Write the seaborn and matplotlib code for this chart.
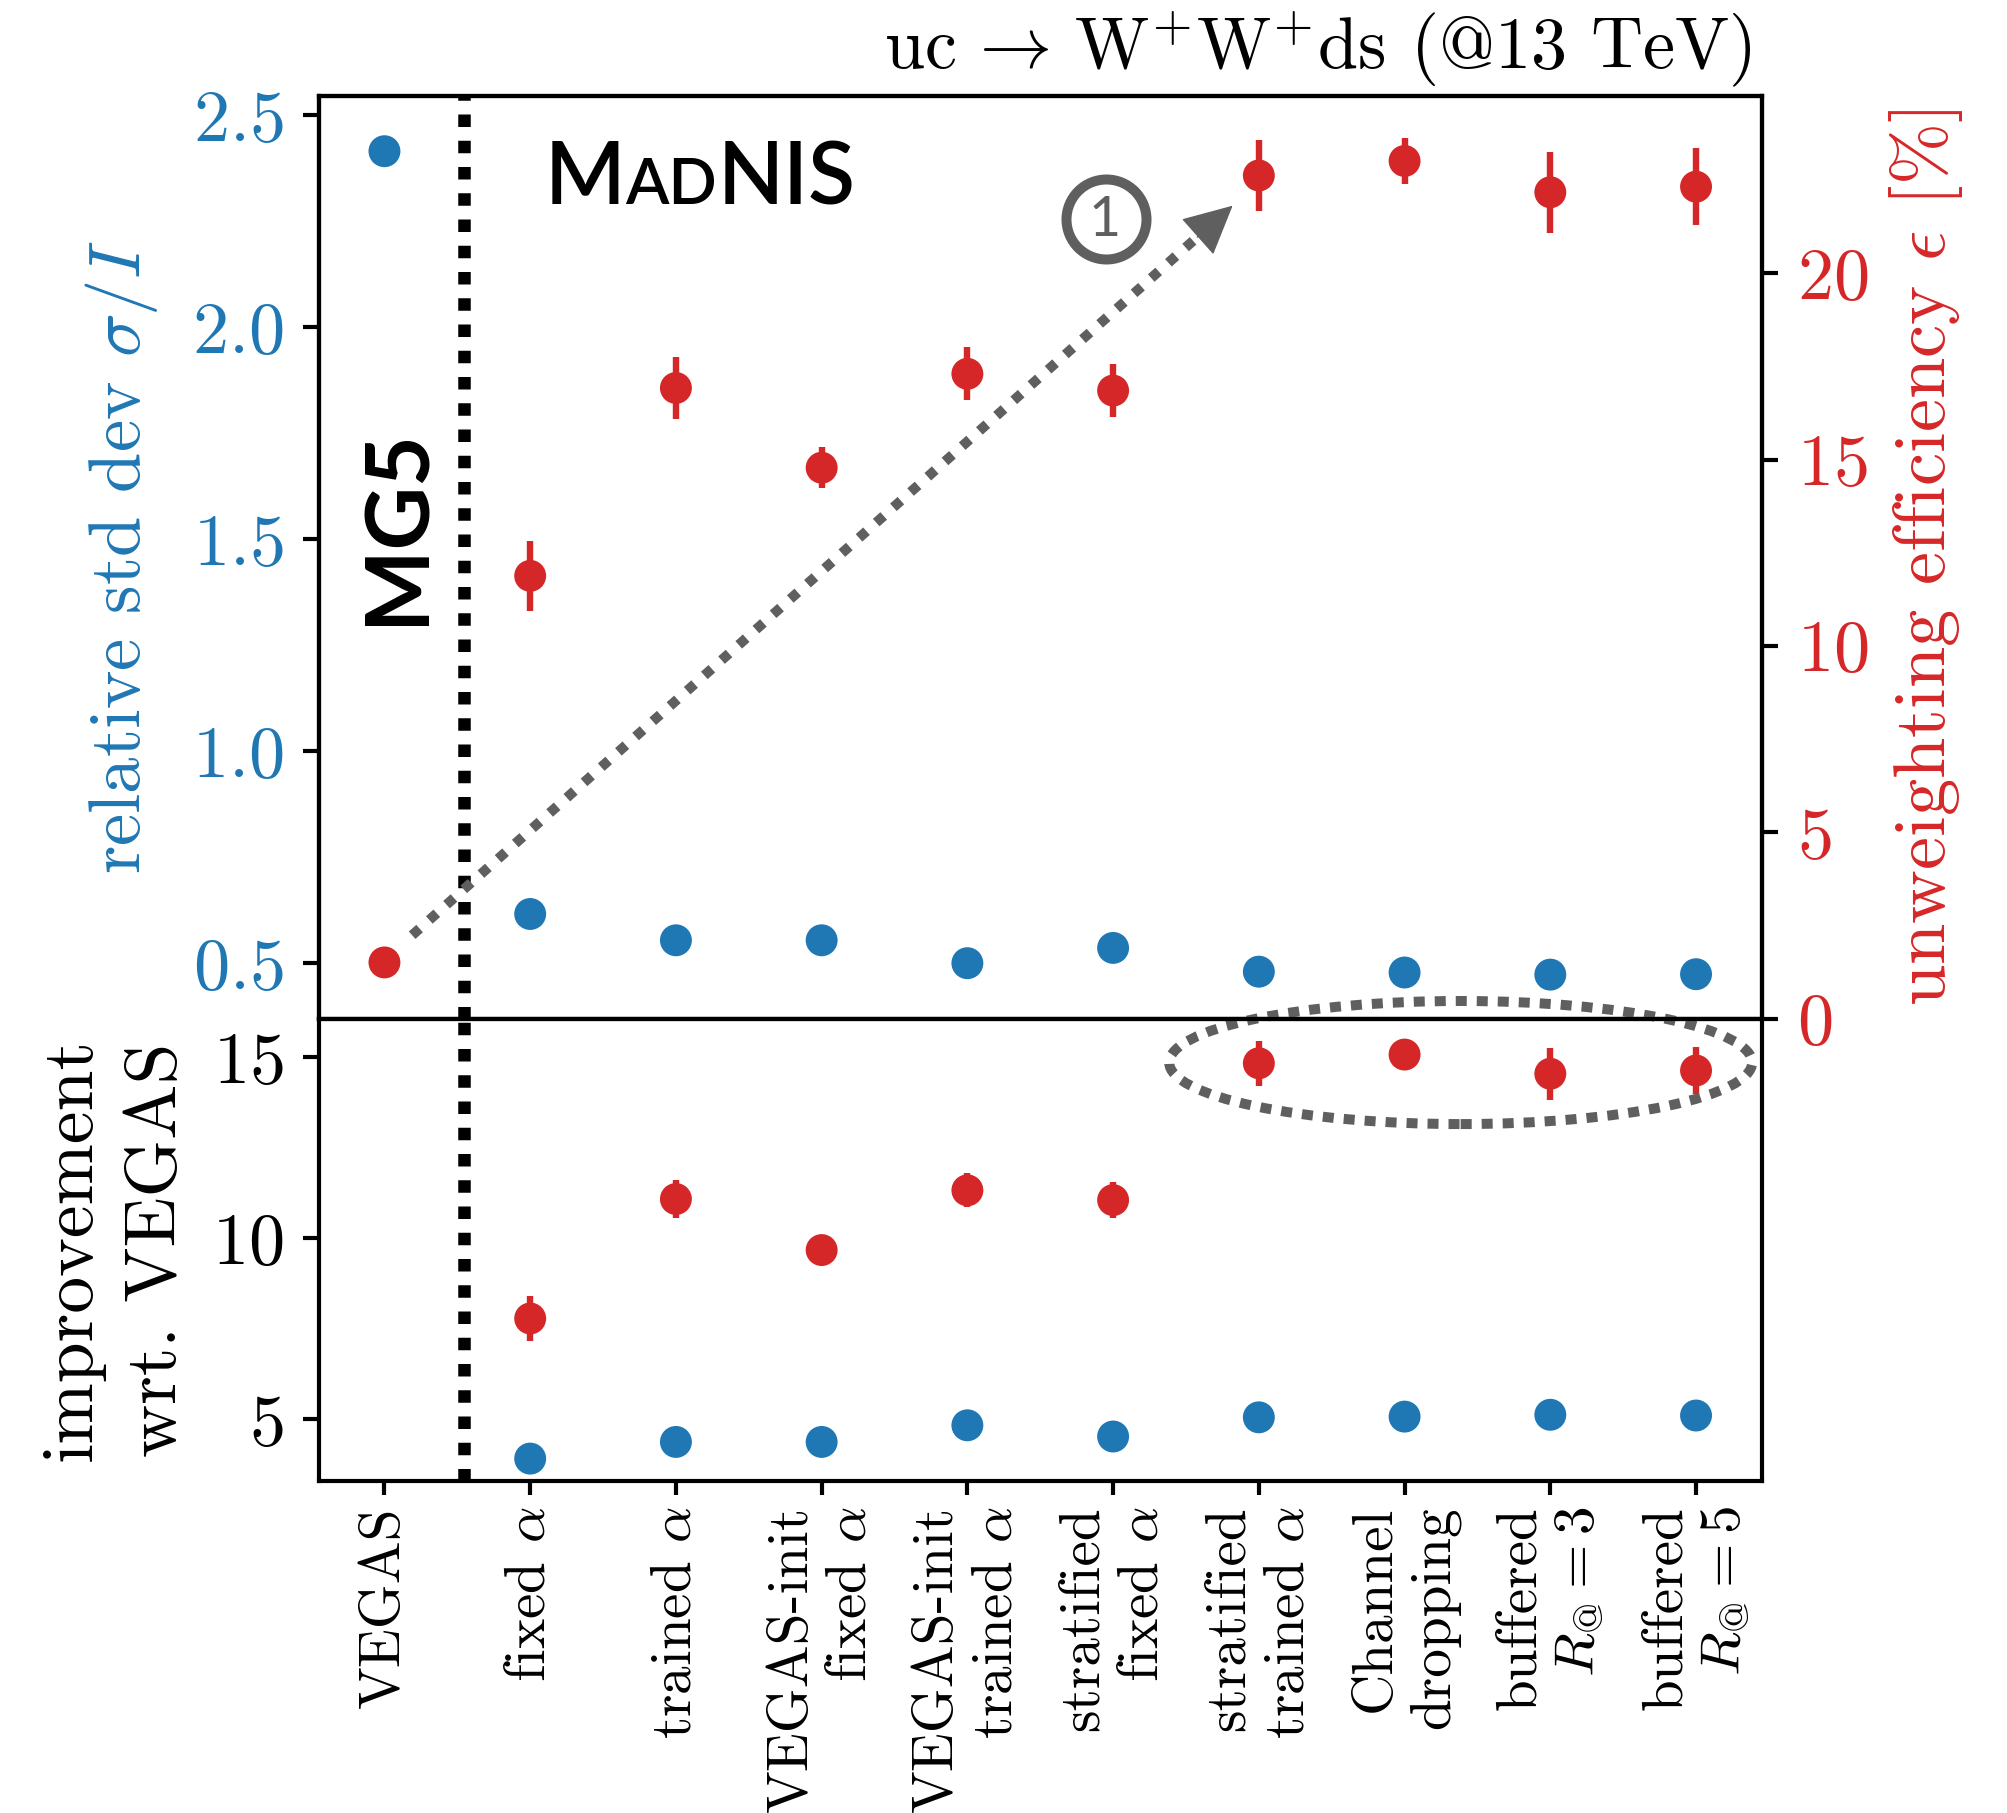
import numpy as np
import pandas as pd
import matplotlib
matplotlib.use("Agg")
import matplotlib.pyplot as plt
import seaborn as sns
from matplotlib.patches import Ellipse
from matplotlib.transforms import offset_copy

# ---------------- data ----------------
categories = ["VEGAS", "fixed $\\alpha$", "trained $\\alpha$",
              "VEGAS-init\nfixed $\\alpha$", "VEGAS-init\ntrained $\\alpha$",
              "stratified\nfixed $\\alpha$", "stratified\ntrained $\\alpha$",
              "Channel\ndropping", "buffered\n$R_\\mathrm{@}=3$", "buffered\n$R_\\mathrm{@}=5$"]
rel_std = [2.415, 0.616, 0.554, 0.554, 0.500, 0.536, 0.480, 0.478, 0.473, 0.474]
unw_eff = [1.51, 11.88, 16.92, 14.78, 17.30, 16.85, 22.62, 23.01, 22.17, 22.32]
unw_eff_err = [0.0, 0.94, 0.82, 0.55, 0.71, 0.72, 0.95, 0.62, 1.08, 1.04]
impr_std = [np.nan, 3.91, 4.37, 4.37, 4.83, 4.52, 5.05, 5.07, 5.12, 5.10]
impr_eff = [np.nan, 7.78, 11.08, 9.67, 11.32, 11.05, 14.83, 15.07, 14.54, 14.63]
impr_eff_err = [np.nan, 0.62, 0.53, 0.25, 0.47, 0.49, 0.62, 0.30, 0.72, 0.66]
left_ticks = [0.5, 1.0, 1.5, 2.0, 2.5]
right_ticks = [0, 5, 10, 15, 20]
bottom_ticks = [5, 10, 15]

BLUE = "#1f77b4"
RED = "#d62728"
GRAY = "#5f5f5f"

sns.set_style("ticks")
plt.rcParams.update({
    "font.family": "serif",
    "font.serif": ["cmr10"],
    "mathtext.fontset": "cm",
    "axes.formatter.use_mathtext": True,
    "axes.unicode_minus": False,
    "axes.linewidth": 1.5,
    "xtick.major.width": 1.5,
    "ytick.major.width": 1.5,
    "xtick.major.size": 5,
    "ytick.major.size": 5.8,
    "xtick.color": "black",
    "ytick.color": "black",
    "axes.edgecolor": "black",
    "text.color": "black",
    "axes.labelcolor": "black",
})

pos = np.arange(len(categories))
df = pd.DataFrame({"pos": pos, "std": rel_std, "eff": unw_eff, "eff_err": unw_eff_err,
                   "istd": impr_std, "ieff": impr_eff, "ieff_err": impr_eff_err})

fig = plt.figure(figsize=(10.04, 9.065), dpi=200)
L, W = 0.1588, 0.7185
ax1 = fig.add_axes([L, 0.4381, W, 0.947 - 0.4381])
ax2 = fig.add_axes([L, 0.1831, W, 0.4381 - 0.1831], sharex=ax1)
ax1r = ax1.twinx()

S = 132
# top panel
sns.scatterplot(data=df, x="pos", y="std", ax=ax1, color=BLUE, s=S, edgecolor="none", linewidth=0, zorder=3)
ax1r.errorbar(df["pos"], df["eff"], yerr=df["eff_err"], fmt="none", ecolor=RED, elinewidth=2.3, capsize=0, zorder=2)
sns.scatterplot(data=df, x="pos", y="eff", ax=ax1r, color=RED, s=S, edgecolor="none", linewidth=0, zorder=3)

# bottom panel
ax2.errorbar(df["pos"], df["ieff"], yerr=df["ieff_err"], fmt="none", ecolor=RED, elinewidth=2.3, capsize=0, zorder=2)
sns.scatterplot(data=df, x="pos", y="ieff", ax=ax2, color=RED, s=S, edgecolor="none", linewidth=0, zorder=3)
sns.scatterplot(data=df, x="pos", y="istd", ax=ax2, color=BLUE, s=S, edgecolor="none", linewidth=0, zorder=3)

# limits & ticks
ax1.set_xlim(-0.45, 9.45)
ax1.set_ylim(0.369, 2.545)
ax1r.set_ylim(0, 24.75)
ax2.set_ylim(3.29, 16.06)
ax1.set_yticks(left_ticks)
ax1r.set_yticks(right_ticks)
ax2.set_yticks(bottom_ticks)
ax1.tick_params(axis="x", bottom=False, labelbottom=False)
ax1.tick_params(axis="y", labelsize=26, labelcolor=BLUE, pad=7)
ax1r.tick_params(axis="y", labelsize=26, labelcolor=RED, pad=7)
ax2.tick_params(axis="y", labelsize=26, pad=7)
ax2.set_xticks(pos)
ax2.set_xticklabels(categories, rotation=90, ha="center", va="top", multialignment="right", fontsize=20.6)
ax2.tick_params(axis="x", pad=4)

ax1.set_xlabel("")
ax2.set_xlabel("")
ax1.set_ylabel("relative std dev $\\sigma/I$", color=BLUE, fontsize=26.2)
ax1r.set_ylabel("unweighting efficiency $\\epsilon$ [%]", color=RED, fontsize=26.8)
ax2.set_ylabel("improvement\nwrt. VEGAS", fontsize=26.5, linespacing=1.4)
ax1.yaxis.set_label_coords(-0.110, 0.5)
ax1r.yaxis.set_label_coords(1.087, 0.5)
ax2.yaxis.set_label_coords(-0.089, 0.5)

for a in (ax1, ax1r, ax2):
    for sp in a.spines.values():
        sp.set_linewidth(1.5)
        sp.set_color("black")

# MG5 / MadNIS separator
for a in (ax1, ax2):
    a.axvline(0.545, color="black", lw=4.5, linestyle=(0, (1.0, 1.1)), zorder=1)

fig.text(1752 / 2008, 1 - 68 / 1813, "uc$\\,\\rightarrow\\,$W$^{+}$W$^{+}$ds (@13 TeV)",
         ha="right", va="baseline", fontsize=26)

ax1.text(0.091, 1.53, "MG5", rotation=90, ha="center", va="center",
         fontsize=31.5, family="Lato", fontweight="bold")

# MadNIS in small caps
fig.canvas.draw()
renderer = fig.canvas.get_renderer()
x0, y0 = 1.10, 2.29
tM = ax1.text(x0, y0, "M", fontsize=31, family="Lato", fontweight="semibold", va="baseline", ha="left")
wM = tM.get_window_extent(renderer).width
tAD = ax1.text(x0, y0, "AD", fontsize=22.8, family="Lato", fontweight="semibold", va="baseline", ha="left",
               transform=offset_copy(ax1.transData, fig=fig, x=wM, y=0, units="dots"))
wAD = tAD.get_window_extent(renderer).width
ax1.text(x0, y0, "NIS", fontsize=31, family="Lato", fontweight="semibold", va="baseline", ha="left",
         transform=offset_copy(ax1.transData, fig=fig, x=wM + wAD, y=0, units="dots"))

# arrow (1): dotted shaft + solid head
start = (0.19, 2.24)
tip = (5.82, 21.81)
p0 = ax1r.transData.transform(start)
p1 = ax1r.transData.transform(tip)
d = (p1 - p0) / np.hypot(*(p1 - p0))
head_px = 40 * fig.dpi / 72 * 0.4
base = ax1r.transData.inverted().transform(p1 - d * head_px * 0.9)
ax1r.plot([start[0], base[0]], [start[1], base[1]], color=GRAY, lw=3.6,
          linestyle=(0, (1.0, 1.3)), solid_capstyle="butt", dash_capstyle="butt")
ax1r.annotate("", xy=tip, xytext=(-d[0] * 17, -d[1] * 17), textcoords="offset points",
              arrowprops=dict(arrowstyle="-|>", lw=0.5, color=GRAY, mutation_scale=40,
                              shrinkA=0, shrinkB=0))
ax1r.plot([4.95], [21.45], marker="o", ms=28.8, mfc="none", mec=GRAY, mew=3.6, clip_on=False)
ax1r.text(4.94, 21.40, "1", ha="center", va="center", fontsize=20, family="Lato", color=GRAY)

# ellipse (bottom)
ell = Ellipse((7.385, 14.85), width=4.0, height=3.4, fill=False, edgecolor=GRAY, lw=3.6,
              linestyle=(0, (1.1, 1.0)), clip_on=False, transform=ax2.transData, zorder=5)
ax2.add_patch(ell)

fig.savefig("out.png", dpi=200)
